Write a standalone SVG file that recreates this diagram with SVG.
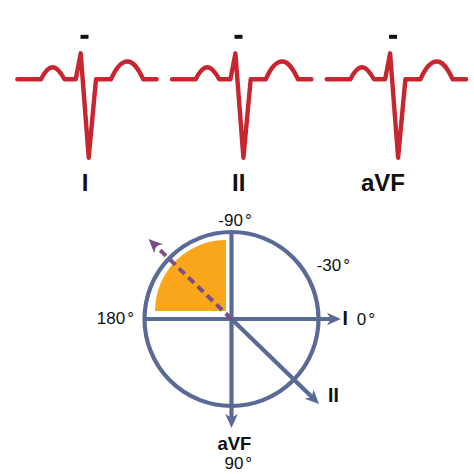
<svg xmlns="http://www.w3.org/2000/svg" width="474" height="474" viewBox="0 0 474 474">
<style>
.ecg{fill:none;stroke:#C8262E;stroke-width:4.4;stroke-linejoin:round;stroke-linecap:round}
.minus{fill:#111}
.lead{font-family:"Liberation Sans",Arial,sans-serif;font-weight:bold;font-size:24px;fill:#111;text-anchor:middle}
.ax{stroke:#586A95;stroke-width:4.2;fill:none}
.deg{font-family:"Liberation Sans",Arial,sans-serif;font-size:17px;fill:#111}
.bl{font-family:"Liberation Sans",Arial,sans-serif;font-weight:bold;fill:#111}
</style>
<defs>
<path id="wave" d="M17.3,79.3 L41,79.3 C45,71 49,67.3 52.7,67.3 C56.5,67.3 60,71 64.5,79.3 L75.7,79.3 L80.7,53.3 L88.7,157.7 L96,79.3 L111,79.3 C116,68 121,61.5 127.3,61.5 C133.5,61.5 138,68 143.3,79.3 L156.7,79.3"/>
<marker id="ab" markerUnits="userSpaceOnUse" markerWidth="14" markerHeight="14" refX="4" refY="5.5" orient="auto" viewBox="0 0 11 11">
<path d="M0,0.5 L11,5.5 L0,10.5 L3,5.5 z" fill="#586A95"/>
</marker>
<marker id="ap" markerUnits="userSpaceOnUse" markerWidth="14" markerHeight="14" refX="4" refY="5.5" orient="auto" viewBox="0 0 11 11">
<path d="M0,0.5 L11,5.5 L0,10.5 L3,5.5 z" fill="#7B4E8B"/>
</marker>
</defs>

<g id="ecg-I">
<use href="#wave" class="ecg"/>
<rect class="minus" x="80.5" y="34.8" width="8" height="4"/>
<text class="lead" x="85" y="190.5">I</text>
</g>
<g id="ecg-II">
<use href="#wave" class="ecg" transform="translate(154.7,0)"/>
<rect class="minus" x="234.5" y="34.8" width="8" height="4"/>
<text class="lead" x="238.7" y="190.5">II</text>
</g>
<g id="ecg-aVF">
<use href="#wave" class="ecg" transform="translate(309.4,0)"/>
<rect class="minus" x="389" y="34.8" width="8" height="4"/>
<text class="lead" x="383" y="190.5">aVF</text>
</g>

<g id="quadrant">
<path d="M226,311 L155,311 A71,71 0 0 1 226,240 Z" fill="#F9A61A"/>
</g>

<g id="connectors">
<circle class="ax" cx="231.5" cy="319" r="87" stroke-width="5"/>
<line class="ax" x1="144.5" y1="319" x2="332" y2="319" marker-end="url(#ab)"/>
<line class="ax" x1="231.5" y1="232" x2="231.5" y2="419" marker-end="url(#ab)"/>
<line class="ax" x1="231.5" y1="319" x2="312.7" y2="397.8" marker-end="url(#ab)"/>
<line x1="231.5" y1="319" x2="155" y2="245.2" stroke="#7B4E8B" stroke-width="4" stroke-dasharray="8,5" marker-end="url(#ap)"/>
</g>

<g id="labels">
<text class="deg" x="235" y="225.5" text-anchor="middle">-90<tspan dx="2">°</tspan></text>
<text class="deg" x="316.7" y="271">-30<tspan dx="2">°</tspan></text>
<text class="deg" x="134" y="323.5" text-anchor="end">180<tspan dx="2">°</tspan></text>
<text class="bl" x="342.5" y="325" font-size="19.5">I</text>
<text class="deg" x="356.7" y="325">0<tspan dx="2">°</tspan></text>
<text class="bl" x="328" y="401.7" font-size="19.5">II</text>
<text class="bl" x="234.4" y="450" font-size="18.5" text-anchor="middle">aVF</text>
<text class="deg" x="238.3" y="469" text-anchor="middle">90<tspan dx="2">°</tspan></text>
</g>
</svg>
